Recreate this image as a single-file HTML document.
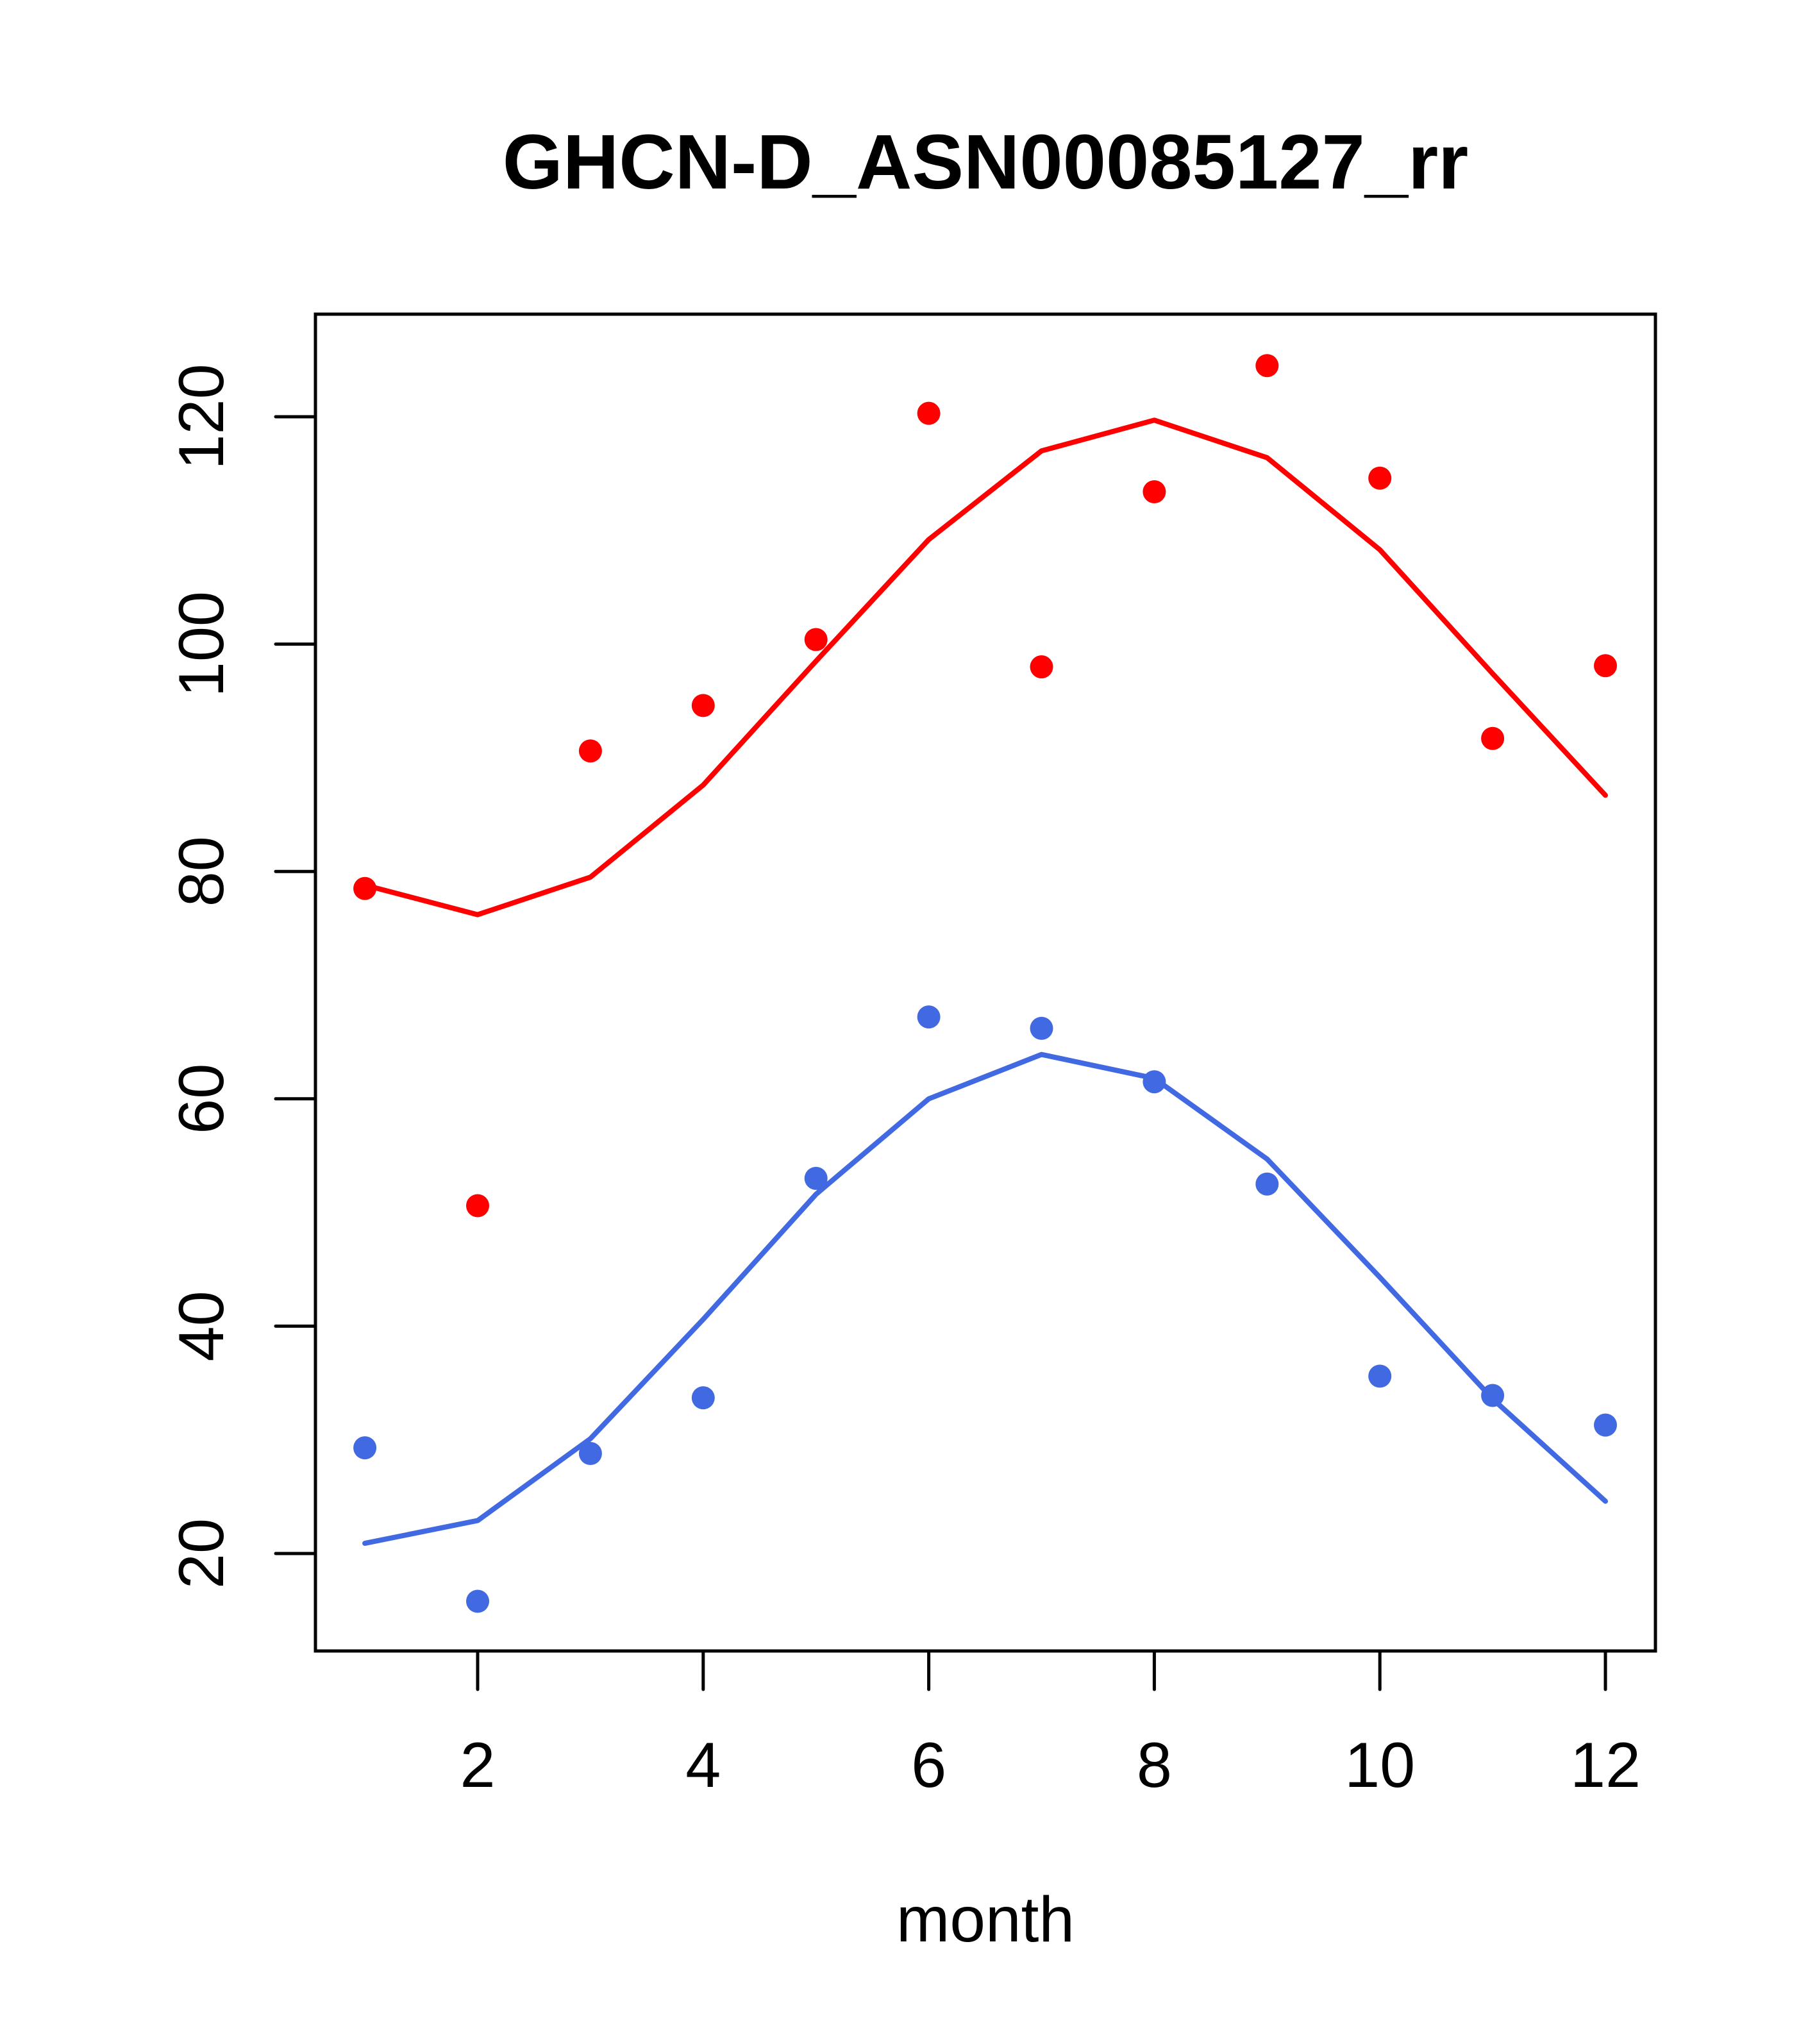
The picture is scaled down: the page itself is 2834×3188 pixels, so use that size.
<!DOCTYPE html>
<html><head><meta charset="utf-8"><style>html,body{margin:0;padding:0;background:#fff}svg{display:block}</style></head>
<body>
<svg id="chart" width="2834" height="3188" viewBox="0 0 2834 3188" xmlns="http://www.w3.org/2000/svg" font-family="Liberation Sans, Arial, sans-serif">
<rect width="2834" height="3188" fill="#fff"/>
<text x="1537" y="294" font-size="121" font-weight="bold" text-anchor="middle">GHCN-D_ASN00085127_rr</text>
<text x="1537" y="3028" font-size="100" text-anchor="middle">month</text>
<g id="axes"></g>
<g id="marks"></g>
<rect x="492" y="490" width="2090" height="2085" fill="none" stroke="#000" stroke-width="5"/>
</svg>
<script>
const months = [1,2,3,4,5,6,7,8,9,10,11,12];
const redPoints = [78.5,50.6,90.6,94.6,100.4,120.3,98.0,113.4,124.5,114.6,91.7,98.1];
const redLine = [78.8,76.2,79.5,87.6,98.5,109.2,117.0,119.7,116.4,108.3,97.4,86.7];
const bluePoints = [29.3,15.8,28.8,33.7,53.0,67.2,66.2,61.5,52.5,35.6,33.9,31.3];
const blueLine = [20.9,22.9,30.1,40.6,51.6,60.0,63.9,61.8,54.7,44.3,33.6,24.6];
const xTicks = [2,4,6,8,10,12];
const yTicks = [20,40,60,80,100,120];

const NS = "http://www.w3.org/2000/svg";
function X(v){ return 745 + (v-2)*(2504-745)/10; }
function Y(v){ return 2423 - (v-20)*(2423-650)/100; }
const axes = document.getElementById('axes');
const marks = document.getElementById('marks');
function mk(tag, attrs, parent){ const e=document.createElementNS(NS,tag); for(const k in attrs) e.setAttribute(k,attrs[k]); parent.appendChild(e); return e; }

xTicks.forEach(t=>{
  const l = mk('line',{x1:X(t),x2:X(t),y1:2575,y2:2635,stroke:'#000','stroke-width':5,'stroke-linecap':'round'},axes);
  
  
  const tx = mk('text',{x:X(t),y:2787,'font-size':99,'text-anchor':'middle'},axes);
  tx.textContent = t;
  
  
});
yTicks.forEach(t=>{
  const l = mk('line',{x1:430,x2:492,y1:Y(t),y2:Y(t),stroke:'#000','stroke-width':5,'stroke-linecap':'round'},axes);
  
  
  const tx = mk('text',{x:0,y:0,'font-size':99,'text-anchor':'middle',transform:`translate(348,${Y(t)}) rotate(-90)`},axes);
  tx.textContent = t;
  
  
});

function drawLine(vals, color, name){
  const p = mk('polyline',{points:vals.map((v,i)=>X(months[i])+','+Y(v)).join(' '),fill:'none',stroke:color,'stroke-width':8,'stroke-linejoin':'round','stroke-linecap':'round'},marks);
  
  
}
function drawPoints(vals, color, name){
  vals.forEach((v,i)=>{
    const c = mk('circle',{cx:X(months[i]),cy:Y(v),r:18,fill:color},marks);
    
    
  });
}
drawLine(redLine,'#FF0000','red-fit-line');
drawLine(blueLine,'#4169E1','blue-fit-line');
drawPoints(redPoints,'#FF0000','red-point');
drawPoints(bluePoints,'#4169E1','blue-point');
</script>
</body></html>
